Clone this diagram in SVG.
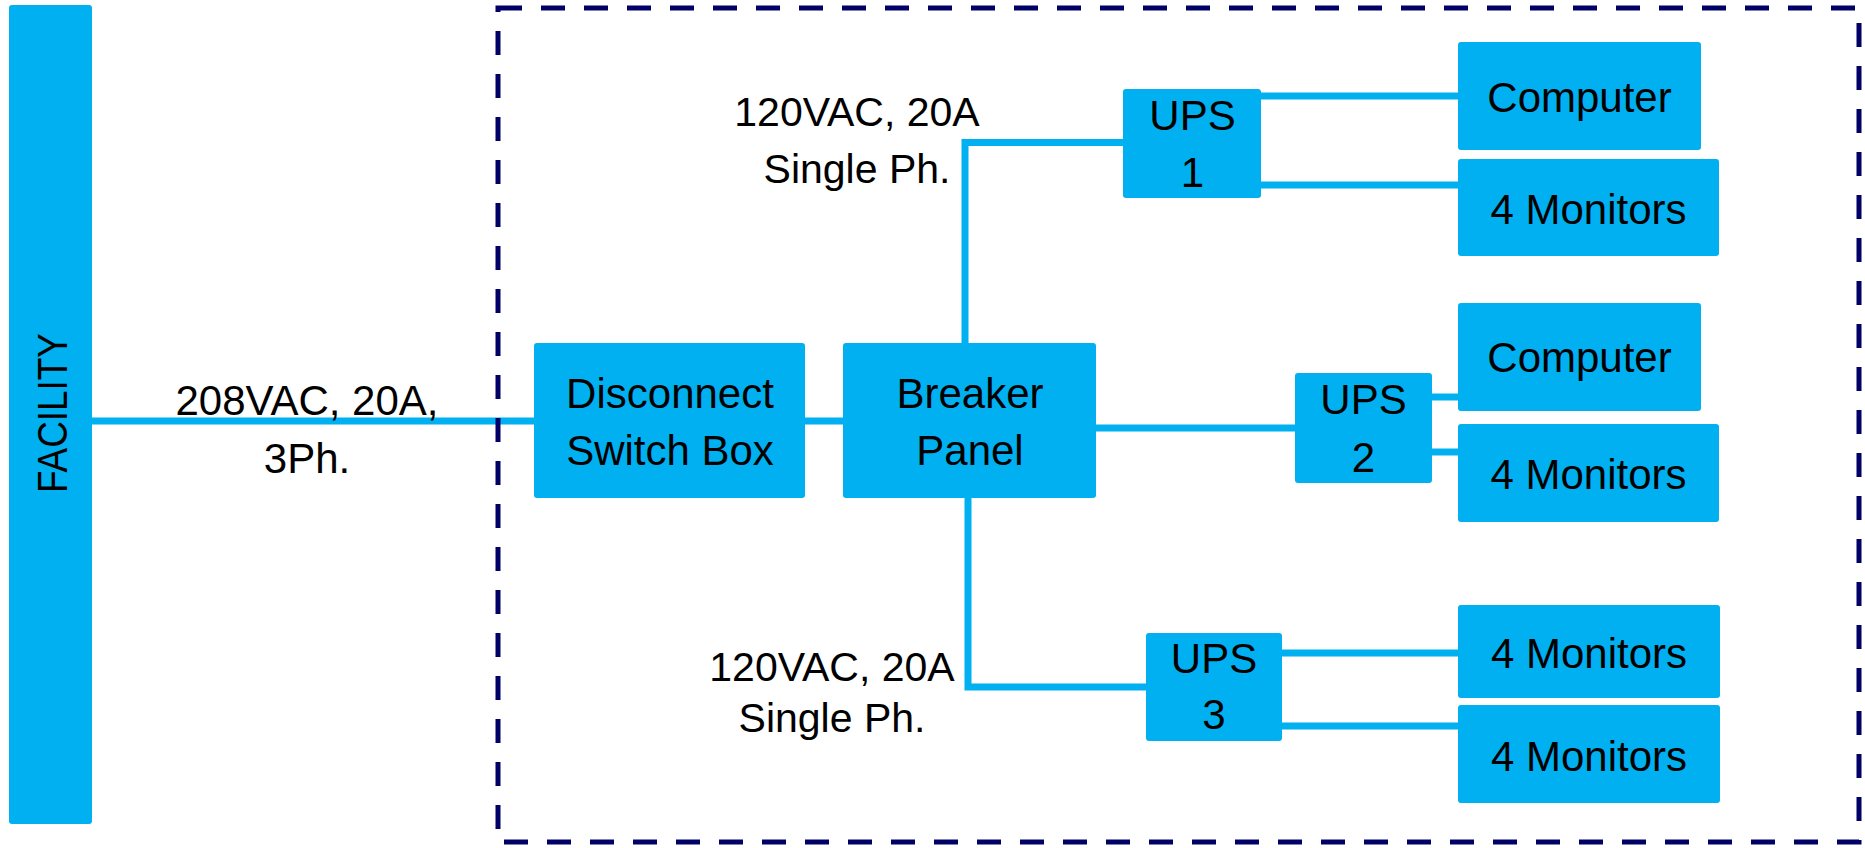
<svg xmlns="http://www.w3.org/2000/svg" width="1865" height="848" viewBox="0 0 1865 848">
<style>
.box{fill:#00B0F0;}
.t{font-family:"Liberation Sans",Arial,sans-serif;font-size:42px;fill:#000;text-anchor:middle;}
.lbl{font-family:"Liberation Sans",Arial,sans-serif;font-size:41px;fill:#000;text-anchor:middle;}
.wire{fill:none;stroke:#00B0F0;stroke-width:7;stroke-linejoin:miter;stroke-linecap:butt;}
.border{fill:none;stroke:#000066;stroke-width:5;stroke-dasharray:24 19;}
</style>
<rect width="1865" height="848" fill="#fff"/>
<g id="connectors">
<path class="wire" d="M92 421 H534"/>
<path class="wire" d="M805 421 H843"/>
<path class="wire" d="M965 343 V142.5 H1123"/>
<path class="wire" d="M1096 428 H1295"/>
<path class="wire" d="M968 498 V687 H1146"/>
<path class="wire" d="M1261 96 H1458"/>
<path class="wire" d="M1261 185 H1458"/>
<path class="wire" d="M1432 397 H1458"/>
<path class="wire" d="M1432 452 H1458"/>
<path class="wire" d="M1282 653 H1458"/>
<path class="wire" d="M1282 726 H1458"/>
</g>
<rect id="enclosure" class="border" x="498" y="8" width="1361" height="834"/>
<g id="labels">
<text class="t" x="307" y="415">208VAC, 20A,</text>
<text class="t" x="307" y="473">3Ph.</text>
<text class="lbl" x="857" y="126">120VAC, 20A</text>
<text class="lbl" x="857" y="183">Single Ph.</text>
<text class="lbl" x="832" y="681">120VAC, 20A</text>
<text class="lbl" x="832" y="732">Single Ph.</text>
</g>
<g id="facility">
<rect class="box" x="9" y="5" width="83" height="819" rx="3"/>
<text class="t" x="67" y="413" font-size="44" textLength="160" lengthAdjust="spacingAndGlyphs" transform="rotate(-90 67 413)">FACILITY</text>
</g>
<g id="disconnect">
<rect class="box" x="534" y="343" width="271" height="155" rx="3"/>
<text class="t" x="670" y="408">Disconnect</text>
<text class="t" x="670" y="465">Switch Box</text>
</g>
<g id="breaker">
<rect class="box" x="843" y="343" width="253" height="155" rx="3"/>
<text class="t" x="970" y="408">Breaker</text>
<text class="t" x="970" y="465">Panel</text>
</g>
<g id="ups1">
<rect class="box" x="1123" y="89" width="138" height="109" rx="3"/>
<text class="t" x="1192.5" y="130">UPS</text>
<text class="t" x="1192.5" y="187">1</text>
</g>
<g id="computer1">
<rect class="box" x="1458" y="42" width="243" height="108" rx="3"/>
<text class="t" x="1579.5" y="112">Computer</text>
</g>
<g id="monitors1">
<rect class="box" x="1458" y="159" width="261" height="97" rx="3"/>
<text class="t" x="1588.5" y="224">4 Monitors</text>
</g>
<g id="ups2">
<rect class="box" x="1295" y="373" width="137" height="110" rx="3"/>
<text class="t" x="1363.5" y="414">UPS</text>
<text class="t" x="1363.5" y="472">2</text>
</g>
<g id="computer2">
<rect class="box" x="1458" y="303" width="243" height="108" rx="3"/>
<text class="t" x="1579.5" y="372">Computer</text>
</g>
<g id="monitors2">
<rect class="box" x="1458" y="424" width="261" height="98" rx="3"/>
<text class="t" x="1588.5" y="489">4 Monitors</text>
</g>
<g id="ups3">
<rect class="box" x="1146" y="633" width="136" height="108" rx="3"/>
<text class="t" x="1214" y="673">UPS</text>
<text class="t" x="1214" y="729">3</text>
</g>
<g id="monitors3a">
<rect class="box" x="1458" y="605" width="262" height="93" rx="3"/>
<text class="t" x="1589" y="668">4 Monitors</text>
</g>
<g id="monitors3b">
<rect class="box" x="1458" y="705" width="262" height="98" rx="3"/>
<text class="t" x="1589" y="771">4 Monitors</text>
</g>
</svg>
